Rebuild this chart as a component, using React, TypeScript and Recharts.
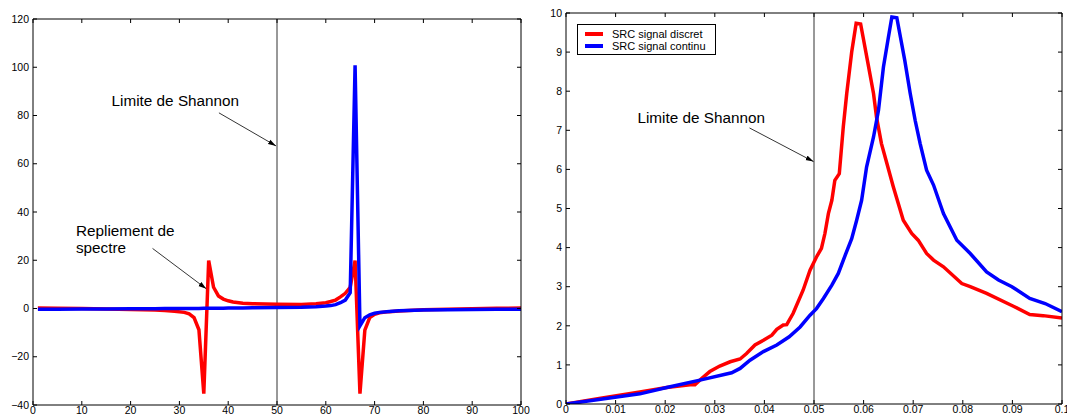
import { LineChart, Line, XAxis, YAxis, ReferenceLine, ReferenceDot, Legend } from 'recharts';

const FONT = '"Liberation Sans", Arial, Helvetica, sans-serif';

// left panel: sample index vs amplitude
const LEFT_X = [1, 5, 10, 15, 20, 25, 27, 29, 31, 32, 33, 34, 35, 36, 37, 38, 39, 40, 41, 43, 45, 50, 55, 58, 60, 61, 62, 63, 64, 65, 66, 67, 68, 69, 70, 71, 73, 75, 80, 85, 90, 95, 100];
const LEFT_DISCRET = [0.2, 0.1, 0, -0.2, -0.4, -0.6, -0.8, -1.1, -1.6, -2.2, -3.8, -8.8, -35.3, 19.9, 8.8, 5.2, 3.9, 3.2, 2.7, 2.2, 2.0, 1.8, 1.7, 2.0, 2.4, 2.9, 3.5, 4.8, 6.3, 8.8, 19.9, -35.3, -9.0, -3.8, -2.4, -1.8, -1.3, -1.0, -0.5, -0.3, -0.1, 0.1, 0.2];
const LEFT_CONTINU = [-0.3, -0.3, -0.2, -0.2, -0.1, -0.1, 0, 0, 0, 0, 0, 0, 0.1, 0.1, 0.1, 0.1, 0.1, 0.2, 0.2, 0.2, 0.3, 0.4, 0.5, 0.7, 1.0, 1.2, 1.6, 2.4, 3.5, 6.5, 100.8, -7.2, -3.8, -2.6, -2.0, -1.6, -1.2, -0.9, -0.6, -0.5, -0.4, -0.35, -0.3];
const LEFT_X_TICKS = [0, 10, 20, 30, 40, 50, 60, 70, 80, 90, 100];
const LEFT_Y_TICKS = [-40, -20, 0, 20, 40, 60, 80, 100, 120];

// right panel: frequency vs SRC
const RIGHT_DISCRET_X = [0, 0.007, 0.0149, 0.0203, 0.025, 0.026, 0.0274, 0.029, 0.031, 0.0331, 0.0351, 0.0364, 0.0381, 0.0398, 0.0415, 0.0425, 0.0438, 0.0445, 0.0458, 0.0478, 0.0492, 0.0505, 0.0515, 0.0522, 0.0529, 0.0536, 0.0542, 0.0551, 0.0559, 0.0566, 0.0576, 0.0585, 0.0594, 0.0599, 0.0609, 0.062, 0.0626, 0.0636, 0.0647, 0.066, 0.068, 0.0697, 0.071, 0.0727, 0.0741, 0.0761, 0.0798, 0.0815, 0.0848, 0.0902, 0.0935, 0.0962, 0.1];
const RIGHT_DISCRET_Y = [0, 0.15, 0.31, 0.42, 0.49, 0.49, 0.66, 0.83, 0.97, 1.08, 1.15, 1.29, 1.51, 1.63, 1.76, 1.91, 2.02, 2.03, 2.32, 2.91, 3.42, 3.76, 3.98, 4.36, 4.87, 5.21, 5.72, 5.89, 7.08, 7.94, 9.0, 9.74, 9.72, 9.38, 8.7, 7.94, 7.34, 6.66, 6.15, 5.55, 4.7, 4.36, 4.19, 3.85, 3.68, 3.51, 3.08, 3.0, 2.83, 2.5, 2.29, 2.26, 2.2];
const RIGHT_CONTINU_X = [0, 0.007, 0.0149, 0.0203, 0.027, 0.0334, 0.0351, 0.0371, 0.0398, 0.0425, 0.045, 0.0472, 0.0492, 0.0505, 0.0519, 0.0536, 0.0549, 0.0563, 0.0576, 0.0586, 0.0596, 0.0606, 0.062, 0.063, 0.064, 0.065, 0.0657, 0.0667, 0.0673, 0.0683, 0.0694, 0.0704, 0.0714, 0.0727, 0.0741, 0.0761, 0.0788, 0.0815, 0.0848, 0.0872, 0.0899, 0.0935, 0.0966, 0.1];
const RIGHT_CONTINU_Y = [0, 0.12, 0.26, 0.42, 0.61, 0.8, 0.91, 1.12, 1.34, 1.51, 1.72, 1.97, 2.27, 2.44, 2.7, 3.04, 3.34, 3.81, 4.23, 4.7, 5.21, 6.06, 6.83, 7.51, 8.62, 9.38, 9.9, 9.88, 9.47, 8.79, 7.94, 7.25, 6.66, 5.98, 5.6, 4.87, 4.19, 3.85, 3.38, 3.17, 3.0, 2.7, 2.57, 2.36];
const RIGHT_X_TICKS = [0, 0.01, 0.02, 0.03, 0.04, 0.05, 0.06, 0.07, 0.08, 0.09, 0.1];
const RIGHT_Y_TICKS = [0, 1, 2, 3, 4, 5, 6, 7, 8, 9, 10];

const SERIES_NAMES = ['SRC signal discret', 'SRC signal continu'];
const SERIES_COLORS = ['#ff0000', '#0000ff'];
const SHANNON_TEXT = ['Limite de Shannon'];
const ALIAS_TEXT = ['Repliement de', 'spectre'];

const leftData = LEFT_X.map((x, i) => ({ x, discret: LEFT_DISCRET[i], continu: LEFT_CONTINU[i] }));
const rightDiscret = RIGHT_DISCRET_X.map((x, i) => ({ x, y: RIGHT_DISCRET_Y[i] }));
const rightContinu = RIGHT_CONTINU_X.map((x, i) => ({ x, y: RIGHT_CONTINU_Y[i] }));

const TICK = { fill: '#000', fontSize: 10.5, fontFamily: FONT };
const AXIS = { stroke: '#000' };
const noTick = () => <g />;
const fmtY = (v: number) => (v < 0 ? '\u2212' + Math.abs(v) : String(v));

const textLabel = (lines: string[]) => (props: any) => {
  const vb = props.viewBox || {};
  return (
    <text x={vb.x} y={vb.y} fontFamily={FONT} fontSize={15.3} fill="#000">
      {lines.map((l, i) => (
        <tspan key={i} x={vb.x} dy={i === 0 ? 0 : 17.5}>
          {l}
        </tspan>
      ))}
    </text>
  );
};

const arrowShape = (p: any) => (
  <line x1={p.x1} y1={p.y1} x2={p.x2} y2={p.y2} stroke="#000" strokeWidth={0.8} markerEnd="url(#arrowhead)" />
);

const renderLegend = () => (
  <div
    style={{
      border: '1px solid #000',
      background: '#fff',
      width: 139,
      height: 31,
      boxSizing: 'border-box',
      padding: '3px 0 0 7px',
      fontFamily: FONT,
      fontSize: 11,
      color: '#000',
    }}
  >
    {SERIES_NAMES.map((name, i) => (
      <div key={name} style={{ display: 'flex', alignItems: 'center', height: 12, lineHeight: '12px' }}>
        <span style={{ display: 'inline-block', width: 18, height: 3.5, background: SERIES_COLORS[i], marginRight: 9 }} />
        <span>{name}</span>
      </div>
    ))}
  </div>
);

function AliasPlot() {
  return (
    <LineChart width={530} height={418} data={leftData} margin={{ top: 18, right: 8, bottom: 0, left: 0 }}>
      <XAxis dataKey="x" type="number" domain={[0, 100]} ticks={LEFT_X_TICKS} interval={0} allowDataOverflow height={13} tickSize={-4} tickMargin={6} axisLine={AXIS} tickLine={AXIS} tick={TICK} />
      <XAxis xAxisId="top" dataKey="x" orientation="top" type="number" domain={[0, 100]} ticks={LEFT_X_TICKS} interval={0} allowDataOverflow height={1} tickSize={-4} axisLine={AXIS} tickLine={AXIS} tick={noTick} />
      <YAxis type="number" domain={[-40, 120]} ticks={LEFT_Y_TICKS} interval={0} allowDataOverflow width={33} tickSize={-4} tickMargin={8} tickFormatter={fmtY} axisLine={AXIS} tickLine={AXIS} tick={TICK} />
      <YAxis yAxisId="right" orientation="right" type="number" domain={[-40, 120]} ticks={LEFT_Y_TICKS} interval={0} allowDataOverflow width={1} tickSize={-4} axisLine={AXIS} tickLine={AXIS} tick={noTick} />
      <ReferenceLine x={50} stroke="#333" strokeWidth={1} />
      <Line type="linear" dataKey="discret" stroke={SERIES_COLORS[0]} strokeWidth={3.5} dot={false} isAnimationActive={false} />
      <Line type="linear" dataKey="continu" stroke={SERIES_COLORS[1]} strokeWidth={3.5} dot={false} isAnimationActive={false} />
      {/* invisible copy so the frame axes (top / right) get a domain and are drawn */}
      <Line xAxisId="top" yAxisId="right" type="linear" dataKey="continu" stroke="none" dot={false} activeDot={false} isAnimationActive={false} legendType="none" />
      <ReferenceDot x={16.1} y={83.8} r={0} fill="none" stroke="none" label={textLabel(SHANNON_TEXT)} />
      <ReferenceLine segment={[{ x: 38.1, y: 81.1 }, { x: 49.8, y: 67.4 }]} shape={arrowShape} />
      <ReferenceDot x={8.8} y={30.2} r={0} fill="none" stroke="none" label={textLabel(ALIAS_TEXT)} />
      <ReferenceLine segment={[{ x: 24.5, y: 24.9 }, { x: 35.5, y: 8.2 }]} shape={arrowShape} />
    </LineChart>
  );
}

function SrcPlot() {
  return (
    <LineChart width={537} height={418} margin={{ top: 12, right: 4, bottom: 0, left: 0 }}>
      <XAxis dataKey="x" type="number" domain={[0, 0.1]} ticks={RIGHT_X_TICKS} interval={0} allowDataOverflow height={14} tickSize={-4} tickMargin={6} axisLine={AXIS} tickLine={AXIS} tick={TICK} />
      <XAxis xAxisId="top" dataKey="x" orientation="top" type="number" domain={[0, 0.1]} ticks={RIGHT_X_TICKS} interval={0} allowDataOverflow height={1} tickSize={-4} axisLine={AXIS} tickLine={AXIS} tick={noTick} />
      <YAxis type="number" domain={[0, 10]} ticks={RIGHT_Y_TICKS} interval={0} allowDataOverflow width={36} tickSize={-4} tickMargin={8} axisLine={AXIS} tickLine={AXIS} tick={TICK} />
      <YAxis yAxisId="right" orientation="right" type="number" domain={[0, 10]} ticks={RIGHT_Y_TICKS} interval={0} allowDataOverflow width={1} tickSize={-4} axisLine={AXIS} tickLine={AXIS} tick={noTick} />
      <ReferenceLine x={0.05} stroke="#333" strokeWidth={1} />
      <Line data={rightDiscret} name={SERIES_NAMES[0]} type="linear" dataKey="y" stroke={SERIES_COLORS[0]} strokeWidth={3.5} dot={false} isAnimationActive={false} />
      <Line data={rightContinu} name={SERIES_NAMES[1]} type="linear" dataKey="y" stroke={SERIES_COLORS[1]} strokeWidth={3.5} dot={false} isAnimationActive={false} />
      <Line data={rightContinu} xAxisId="top" yAxisId="right" type="linear" dataKey="y" stroke="none" dot={false} activeDot={false} isAnimationActive={false} legendType="none" />
      <ReferenceDot x={0.0144} y={7.19} r={0} fill="none" stroke="none" label={textLabel(SHANNON_TEXT)} />
      <ReferenceLine segment={[{ x: 0.037, y: 7.06 }, { x: 0.0499, y: 6.2 }]} shape={arrowShape} />
      <Legend layout="vertical" align="center" verticalAlign="middle" content={renderLegend} wrapperStyle={{ left: 47, top: 24, width: 139 }} />
    </LineChart>
  );
}

export default function App() {
  return (
    <div style={{ position: 'absolute', left: 0, top: 0, width: 1067, height: 418, background: '#fff', overflow: 'hidden' }}>
      <svg width={0} height={0} style={{ position: 'absolute' }}>
        <defs>
          <marker id="arrowhead" markerUnits="userSpaceOnUse" markerWidth={8} markerHeight={6} refX={8} refY={3} orient="auto">
            <path d="M0,0.5 L8,3 L0,5.5 Z" fill="#000" />
          </marker>
        </defs>
      </svg>
      <div style={{ position: 'absolute', left: 0, top: 0 }}>
        <AliasPlot />
      </div>
      <div style={{ position: 'absolute', left: 530, top: 0 }}>
        <SrcPlot />
      </div>
    </div>
  );
}
